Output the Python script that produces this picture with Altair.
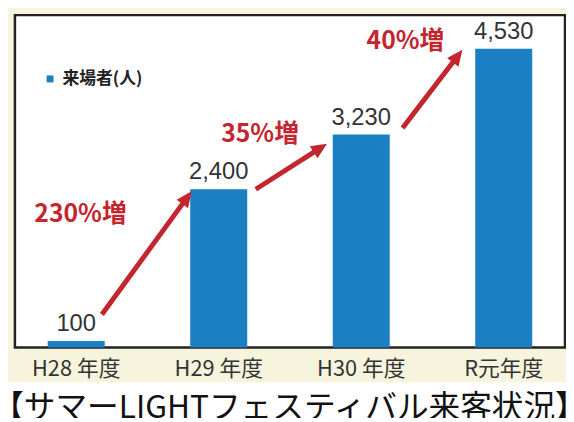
import math
import altair as alt
import pandas as pd

# ---- data ----
years = ["H28 年度", "H29 年度", "H30 年度", "R元年度"]
visitors = [100, 2400, 3230, 4530]
value_labels = ["100", "2,400", "3,230", "4,530"]
series_name = "来場者(人)"
grid_values = [500, 1000, 1500, 2000, 2500, 3000, 3500, 4000, 4500, 5000]

growth_labels = ["230%増", "35%増", "40%増"]
# annotation anchors in (category index, visitors) units
growth_x = [0.03, 1.29, 2.31]
growth_y = [2030, 3240, 4650]
arrow_x1 = [0.18, 1.26, 2.29]
arrow_y1 = [500, 2400, 3330]
arrow_x2 = [0.81, 1.76, 2.71]
arrow_y2 = [2370, 3090, 4515]

title_text = "【サマーLIGHTフェスティバル来客状況】"

# ---- layout / style ----
W, H = 556, 336
PI, PO = 0.6, 0.23
YMAX = 5040
STEP = W / (len(years) - PI + 2 * PO)
A = PO + (1 - PI) / 2
BLUE = "#1b7fc3"
RED = "#c3262e"
HEAD = 16  # px length of arrow head

rows = []
for x1, y1, x2, y2 in zip(arrow_x1, arrow_y1, arrow_x2, arrow_y2):
    dxp = (x2 - x1) * STEP
    dyp = (y2 - y1) * H / YMAX
    L = math.hypot(dxp, dyp)
    f = (HEAD - 4) / L
    ang = math.degrees(math.atan2(dxp, dyp)) % 360
    rows.append({"ax1": x1, "ay1": y1,
                 "ax2": x2 - f * (x2 - x1), "ay2": y2 - f * (y2 - y1),
                 "tx": x2, "ty": y2, "angle": ang})
arrows_df = pd.DataFrame(rows)
growth_df = pd.DataFrame({"gx": growth_x, "gy": growth_y, "txt": growth_labels})

bars_df = pd.DataFrame({"year": years, "visitors": visitors,
                        "label": value_labels, "series": series_name})

x_band = alt.X("year:N", sort=years,
               scale=alt.Scale(paddingInner=PI, paddingOuter=PO),
               axis=alt.Axis(title=None, labelAngle=0, ticks=False, domain=False,
                             grid=False, labelFontSize=22, labelColor="#333",
                             labelFont="Noto Sans CJK JP", labelPadding=11))
y_scale = alt.Scale(domain=[0, YMAX], nice=False)
y_q = alt.Y("visitors:Q", scale=y_scale,
            axis=alt.Axis(title=None, labels=False, ticks=False, domain=False,
                          grid=True, gridColor="#e6e6e6", gridWidth=1,
                          values=grid_values))

bars = alt.Chart(bars_df).mark_bar().encode(
    x=x_band, y=y_q,
    color=alt.Color("series:N", scale=alt.Scale(range=[BLUE]),
                    legend=alt.Legend(title=None, orient="none", legendX=27, legendY=56,
                                      symbolType="square", symbolSize=49,
                                      symbolStrokeWidth=0, labelFontSize=17,
                                      labelFont="Noto Sans CJK JP", labelFontWeight="bold",
                                      labelColor="#222", labelOffset=4, padding=0)),
)
labels = alt.Chart(bars_df).mark_text(
    baseline="alphabetic", dy=-10, fontSize=24, font="Liberation Sans", color="#333"
).encode(x=x_band, y=y_q, text="label:N")

x_q = alt.Scale(domain=[-A, len(years) - 1 + A], nice=False, zero=False)

arrow_lines = alt.Chart(arrows_df).mark_rule(
    color=RED, strokeWidth=5, strokeCap="butt"
).encode(
    x=alt.X("ax1:Q", scale=x_q, axis=None),
    y=alt.Y("ay1:Q", scale=y_scale, axis=None),
    x2="ax2:Q", y2="ay2:Q",
)
arrow_heads = alt.Chart(arrows_df).mark_point(
    shape="M0,0L-0.9,2L0.9,2Z", filled=True, size=HEAD * HEAD, color=RED,
    opacity=1, strokeWidth=0
).encode(
    x=alt.X("tx:Q", scale=x_q, axis=None),
    y=alt.Y("ty:Q", scale=y_scale, axis=None),
    angle=alt.Angle("angle:Q", scale=None),
)
growth = alt.Chart(growth_df).mark_text(
    fontSize=25, fontWeight="bold", font="Noto Sans CJK JP", color=RED,
    align="center", baseline="middle"
).encode(
    x=alt.X("gx:Q", scale=x_q, axis=None),
    y=alt.Y("gy:Q", scale=y_scale, axis=None),
    text="txt:N",
)

one = pd.DataFrame({"t": [title_text]})
white_band = alt.Chart(one).mark_rect(color="white").encode(
    x=alt.value(-7), x2=alt.value(560), y=alt.value(371), y2=alt.value(420)
)
title = alt.Chart(one).mark_text(
    align="left", baseline="middle", fontSize=32, font="Noto Sans CJK JP", color="#111"
).encode(x=alt.value(-23), y=alt.value(397), text="t:N")

chart = alt.layer(
    alt.layer(bars, labels),
    alt.layer(arrow_lines, arrow_heads, growth),
    white_band, title,
).resolve_scale(x="independent").properties(
    width=W, height=H,
    padding={"left": 7, "top": 5, "right": 1, "bottom": 69},
    autosize=alt.AutoSizeParams(type="none"),
).configure(background="#f6f4dd").configure_view(
    stroke="#222", strokeWidth=2.5, fill="white"
)

chart.save("out.html", embed_options={"renderer": "svg", "actions": False})
